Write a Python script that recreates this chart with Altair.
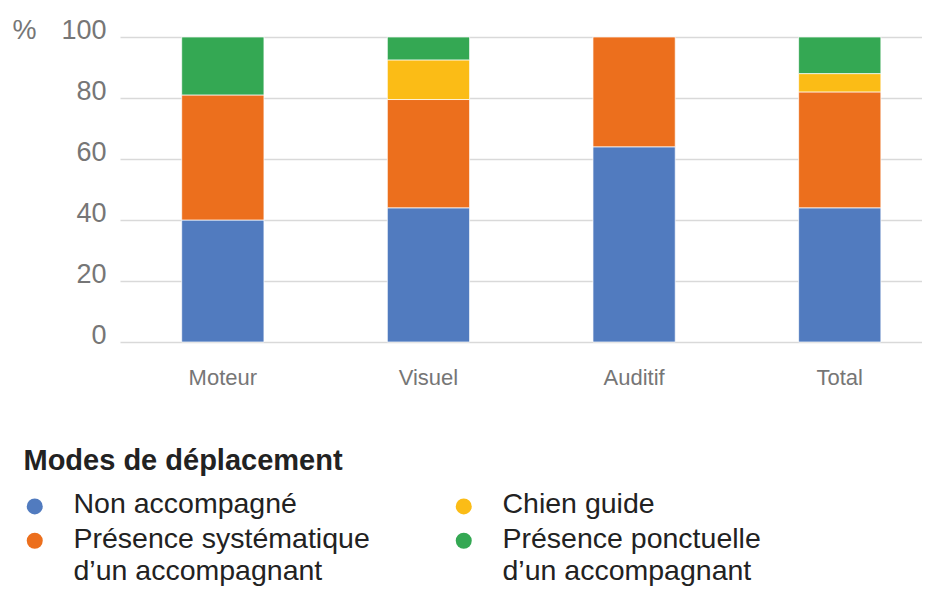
import altair as alt
import pandas as pd

categories = ["Moteur", "Visuel", "Auditif", "Total"]
modes = [
    "Non accompagné",
    "Présence systématique d’un accompagnant",
    "Chien guide",
    "Présence ponctuelle d’un accompagnant",
]
non_accompagne = [40, 44, 64, 44]
presence_systematique = [41, 35.5, 36, 38]
chien_guide = [0, 13, 0, 6]
presence_ponctuelle = [19, 7.5, 0, 12]
couleurs = ["#517bbf", "#ec6f1d", "#fbbc16", "#34a853"]

rows = []
for i, cat in enumerate(categories):
    for rang, (mode, serie) in enumerate(
        zip(modes, [non_accompagne, presence_systematique, chien_guide, presence_ponctuelle])
    ):
        if serie[i] > 0:
            rows.append({"categorie": cat, "mode": mode, "valeur": serie[i], "rang": rang})
df = pd.DataFrame(rows)

FONT = "Liberation Sans"
DY = 7


def build(use_style):
    dy = DY if use_style else 0
    c = (
        alt.Chart(df)
        .mark_bar(stroke="white", strokeWidth=1, strokeOpacity=0.7)
        .encode(
            x=alt.X(
                "categorie:N",
                sort=categories,
                scale=alt.Scale(paddingInner=0.6, paddingOuter=0.25, align=0.6),
                axis=alt.Axis(
                    title=None,
                    labelAngle=0,
                    labelFont=FONT,
                    labelFontSize=22,
                    labelColor="#767676",
                    labelPadding=25 - dy,
                    ticks=False,
                    domain=False,
                ),
            ),
            y=alt.Y(
                "valeur:Q",
                stack="zero",
                scale=alt.Scale(domain=[0, 100], nice=False),
                axis=alt.Axis(
                    values=[0, 20, 40, 60, 80, 100],
                    title="%",
                    titleAngle=0,
                    titleAlign="left",
                    titleBaseline="alphabetic",
                    titleX=-108,
                    titleY=1.5,
                    titleFont=FONT,
                    titleFontSize=27,
                    titleFontWeight="normal",
                    titleColor="#767676",
                    labelFont=FONT,
                    labelFontSize=27,
                    labelColor="#767676",
                    labelPadding=14,
                    labelBaseline="alphabetic",
                    labelOffset=1.5 - dy,
                    ticks=False,
                    domain=False,
                    gridColor="#d9d9d9",
                    gridWidth=1.5,
                ),
            ),
            color=alt.Color(
                "mode:N",
                scale=alt.Scale(domain=modes, range=couleurs),
                legend=alt.Legend(
                    title="Modes de déplacement",
                    orient="none",
                    legendX=-96.5,
                    legendY=410,
                    columns=2,
                    columnPadding=82,
                    rowPadding=5.5,
                    titleFont=FONT,
                    titleFontSize=29,
                    titleFontWeight="bold",
                    titleColor="#222222",
                    titlePadding=16,
                    titleLimit=600,
                    labelFont=FONT,
                    labelFontSize=28.5,
                    labelColor="#222222",
                    labelLimit=600,
                    labelOffset=24.5,
                    labelBaseline="alphabetic",
                    labelExpr="split(replace(datum.label, ' d’un ', '|d’un '), '|')",
                    symbolType="circle",
                    symbolSize=256,
                    symbolStrokeWidth=0,
                    symbolOpacity=1,
                    symbolOffset=-3,
                ),
            ),
            order=alt.Order("rang:Q"),
        )
        .properties(
            width=802,
            height=305,
            autosize=alt.AutoSizeParams(type="none"),
            padding={"left": 112, "top": 29, "right": 0, "bottom": 244},
        )
    )
    if use_style:
        c = c.configure(font=FONT, style={"guide-label": {"dy": DY, "lineHeight": 32.5}})
    else:
        c = c.configure(font=FONT)
    c = c.configure_legend(padding=0).configure_view(stroke=None)
    return c


chart = None
for flag in (True, False):
    try:
        candidate = build(flag)
        candidate.to_dict()
        chart = candidate
        break
    except Exception:
        continue

chart.save("out.html", embed_options={"renderer": "svg", "actions": False})
